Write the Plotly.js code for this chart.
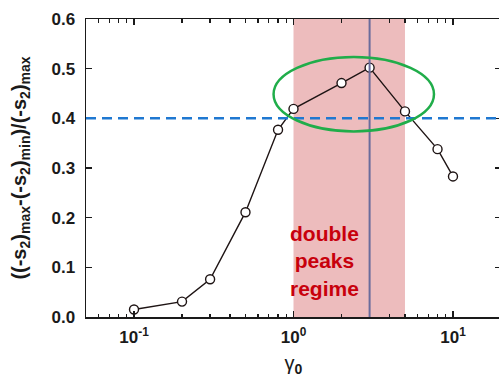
<!DOCTYPE html>
<html>
<head>
<meta charset="utf-8">
<script src="https://cdn.plot.ly/plotly-3.0.1.min.js"></script>
<style>
html,body{margin:0;padding:0;overflow:hidden;background:#fff;}
#chart{width:501px;height:379px;}
</style>
</head>
<body>
<div id="chart"></div>
<script>
// Data
var gamma0 = [0.1, 0.2, 0.3, 0.5, 0.8, 1, 2, 3, 5, 8, 10];
var ratio  = [0.015, 0.031, 0.076, 0.211, 0.377, 0.419, 0.471, 0.502, 0.414, 0.338, 0.283];
var threshold = 0.4;
var regimeStart = 1;
var regimeEnd = 5;
var peakGamma = 3;
var xMajorVals = [0.1, 1, 10];
var xMajorText = ['10<sup>-1</sup>', '10<sup>0</sup>', '10<sup>1</sup>'];
var xMinorVals = [0.06,0.07,0.08,0.09,0.2,0.3,0.4,0.5,0.6,0.7,0.8,0.9,2,3,4,5,6,7,8,9,20];
var yTickVals = [0, 0.1, 0.2, 0.3, 0.4, 0.5, 0.6];
var ellipseX = [0.75, 7.6];
var ellipseY = [0.3737, 0.5235];

var FONT = 'Liberation Sans, Arial, sans-serif';
var XRANGE = [Math.log10(0.05), Math.log10(20)];

var trace = {
  x: gamma0, y: ratio,
  type: 'scatter', mode: 'lines+markers',
  line: {color: '#1e1414', width: 1.4},
  marker: {symbol: 'circle', size: 9, color: '#ffffff', line: {color: '#1e1414', width: 1.4}},
  hoverinfo: 'skip', showlegend: false
};

var layout = {
  width: 501, height: 379,
  margin: {l: 86, r: 0, t: 19, b: 62},
  paper_bgcolor: '#fff', plot_bgcolor: '#fff',
  showlegend: false,
  font: {family: FONT, color: '#1a1a1a'},
  xaxis: {
    type: 'log',
    range: XRANGE,
    tickmode: 'array', tickvals: xMajorVals, ticktext: xMajorText,
    ticks: 'inside', ticklen: 6, tickwidth: 1.5, tickcolor: '#1a1a1a',
    showline: true, linecolor: '#1a1a1a', linewidth: 1.5, mirror: 'ticks',
    showgrid: false, zeroline: false,
    minor: {tickmode: 'array', tickvals: xMinorVals, ticks: 'inside', ticklen: 3.5, tickwidth: 1.3, tickcolor: '#1a1a1a', showgrid: false},
    tickfont: {family: FONT, size: 17, weight: 'bold', color: '#1a1a1a'},
    ticklabelstandoff: 4,
    title: {text: 'γ<sub><b>0</b></sub>', font: {family: FONT, size: 20, color: '#1a1a1a'}, standoff: 10},
    automargin: false
  },
  yaxis: {
    range: [0, 0.6],
    tickmode: 'array', tickvals: yTickVals, tickformat: '.1f',
    ticks: 'inside', ticklen: 6, tickwidth: 1.5, tickcolor: '#1a1a1a',
    showline: true, linecolor: '#1a1a1a', linewidth: 1.5, mirror: 'ticks',
    showgrid: false, zeroline: false,
    tickfont: {family: FONT, size: 17, weight: 'bold', color: '#1a1a1a'},
    ticklabelstandoff: 6,
    title: {
      text: '((-s<sub>2</sub>)<sub>max</sub>-(-s<sub>2</sub>)<sub>min</sub>)/(-s<sub>2</sub>)<sub>max</sub>',
      font: {family: FONT, size: 20, weight: 'bold', color: '#1a1a1a'},
      standoff: 19
    },
    automargin: false
  },
  shapes: [
    {type: 'rect', xref: 'x', yref: 'paper', x0: regimeStart, x1: regimeEnd, y0: 0, y1: 1,
     fillcolor: '#edbcbd', line: {width: 0}, layer: 'below'},
    {type: 'line', xref: 'x', yref: 'paper', x0: peakGamma, x1: peakGamma, y0: 0, y1: 1,
     line: {color: '#6a6c9c', width: 2}, layer: 'above'},
    {type: 'line', xref: 'paper', yref: 'y', x0: 0, x1: 1, y0: threshold, y1: threshold,
     line: {color: '#1f78d1', width: 2.5, dash: '10px,6px'}, layer: 'above'},
    {type: 'circle', xref: 'x', yref: 'y', x0: ellipseX[0], x1: ellipseX[1], y0: ellipseY[0], y1: ellipseY[1],
     line: {color: '#20ad4a', width: 2.5}, fillcolor: 'rgba(0,0,0,0)', layer: 'above'}
  ],
  annotations: [
    {text: '<b>double<br>peaks<br>regime</b>', xref: 'x', yref: 'y',
     x: Math.log10(1.57), y: 0.112, xanchor: 'center', yanchor: 'middle',
     showarrow: false, align: 'center',
     font: {family: FONT, size: 21, color: '#c8000c'}}
  ]
};

Plotly.newPlot('chart', [trace], layout, {staticPlot: true, displayModeBar: false});
</script>
</body>
</html>
